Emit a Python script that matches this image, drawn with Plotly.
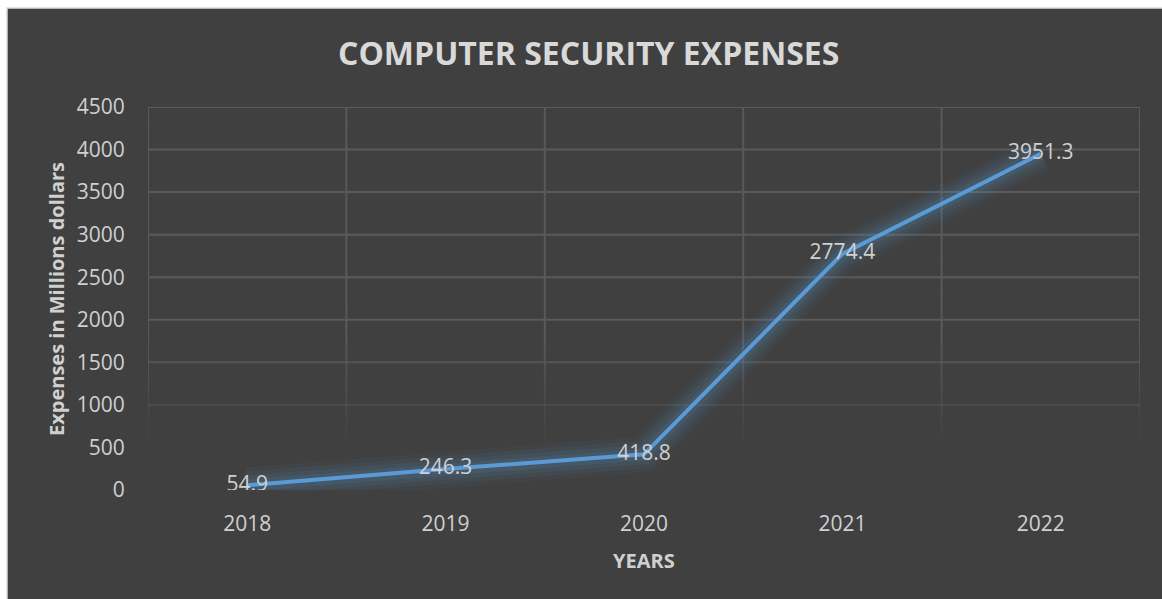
import plotly.graph_objects as go

# Annual spending on computer security (millions of dollars)
years = ["2018", "2019", "2020", "2021", "2022"]
expenses = [54.9, 246.3, 418.8, 2774.4, 3951.3]
y_ticks = [0, 500, 1000, 1500, 2000, 2500, 3000, 3500, 4000, 4500]

W, H = 1162, 599
ML, MR, MT, MB = 148, 22, 107, 109
PW, PH = W - ML - MR, H - MT - MB

def px_x(px):
    return (px - ML) / PW

def px_y(py):
    return (H - MB - py) / PH

BG = "#404040"
GRID = (90, 90, 90)
TXT = "#d0d0d0"
LINE = "91,155,213"
FONT = "Open Sans"


def grid_alpha(v):
    # gridlines fade out toward the bottom of the plot
    if v >= 1800:
        return 1.0
    if v <= 450:
        return 0.0
    return (v - 450) / (1800 - 450)


fig = go.Figure()

# soft glow under the line
for w, a in [(36, 0.05), (28, 0.06), (20, 0.08), (12, 0.12)]:
    fig.add_trace(go.Scatter(
        x=years, y=expenses, mode="lines",
        line=dict(color=f"rgba({LINE},{a})", width=w),
        hoverinfo="skip", showlegend=False,
    ))

fig.add_trace(go.Scatter(
    x=years, y=expenses, mode="lines",
    line=dict(color=f"rgb({LINE})", width=4),
    showlegend=False,
))

fig.add_trace(go.Scatter(
    x=years, y=expenses, mode="text",
    text=[f"{v:.1f}" for v in expenses],
    textposition="middle center",
    textfont=dict(family=FONT, size=21, color=TXT),
    showlegend=False, hoverinfo="skip",
))

shapes = []
# chart frame
shapes.append(dict(type="rect", xref="paper", yref="paper",
                   x0=px_x(7), x1=px_x(W + 5), y0=px_y(H + 5), y1=px_y(8),
                   fillcolor=BG, line=dict(color="#d9d9d9", width=1.5),
                   layer="below"))

# horizontal gridlines
for v in y_ticks:
    a = grid_alpha(v)
    if a <= 0:
        continue
    shapes.append(dict(type="line", xref="x", yref="y",
                       x0=-0.5, x1=len(years) - 0.5, y0=v, y1=v,
                       line=dict(color=f"rgba({GRID[0]},{GRID[1]},{GRID[2]},{a:.3f})", width=2),
                       layer="below"))

# vertical category separators, drawn in short fading segments
step = 50
for i in range(len(years) + 1):
    xv = i - 0.5
    v = 0
    while v < 4500:
        a = grid_alpha(v + step / 2)
        if a > 0:
            shapes.append(dict(type="line", xref="x", yref="y",
                               x0=xv, x1=xv, y0=v, y1=v + step,
                               line=dict(color=f"rgba({GRID[0]},{GRID[1]},{GRID[2]},{a:.3f})", width=2),
                               layer="below"))
        v += step

annotations = [
    dict(text="<b>COMPUTER SECURITY EXPENSES</b>", xref="paper", yref="paper",
         x=px_x(588), y=px_y(52), xanchor="center", yanchor="middle",
         showarrow=False, font=dict(family=FONT, size=32, color="#d9d9d9")),
    dict(text="<b>YEARS</b>", xref="paper", yref="paper",
         x=px_x(644), y=px_y(560), xanchor="center", yanchor="middle",
         showarrow=False, font=dict(family=FONT, size=20, color=TXT)),
    dict(text="<b>Expenses in Millions dollars</b>", xref="paper", yref="paper",
         x=px_x(56), y=px_y(299), xanchor="center", yanchor="middle", textangle=-90,
         showarrow=False, font=dict(family=FONT, size=20, color=TXT)),
]

fig.update_layout(
    width=W, height=H,
    margin=dict(l=ML, r=MR, t=MT, b=MB),
    paper_bgcolor="white", plot_bgcolor=BG,
    shapes=shapes, annotations=annotations,
    showlegend=False,
    xaxis=dict(type="category", range=[-0.5, len(years) - 0.5],
               showgrid=False, zeroline=False, showline=False,
               ticks="outside", ticklen=15, tickcolor="rgba(0,0,0,0)",
               tickfont=dict(family=FONT, size=21, color=TXT)),
    yaxis=dict(range=[0, 4500], tickvals=y_ticks,
               showgrid=False, zeroline=False, showline=False,
               ticks="outside", ticklen=18, tickcolor="rgba(0,0,0,0)",
               tickfont=dict(family=FONT, size=21, color=TXT)),
)

fig.write_html("out.html")
